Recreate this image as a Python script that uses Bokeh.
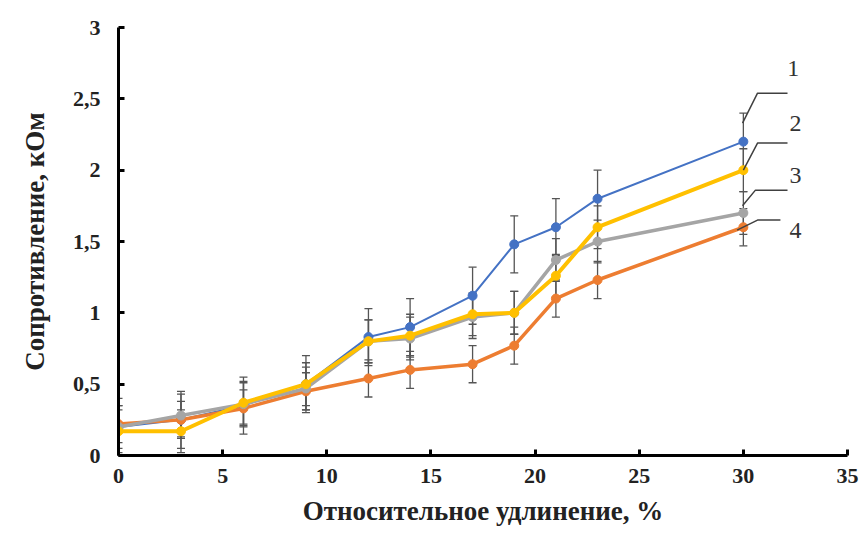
from bokeh.plotting import figure
from bokeh.models import FixedTicker, Whisker, TeeHead, ColumnDataSource, Label
from bokeh.embed import file_html
from bokeh.resources import INLINE

# ---- data ----
elongation = [0, 3, 6, 9, 12, 14, 17, 19, 21, 23, 30]
series_1 = [0.20, 0.25, 0.35, 0.50, 0.83, 0.90, 1.12, 1.48, 1.60, 1.80, 2.20]   # blue
series_2 = [0.17, 0.17, 0.37, 0.50, 0.80, 0.84, 0.99, 1.00, 1.26, 1.60, 2.00]   # yellow
series_3 = [0.20, 0.28, 0.36, 0.47, 0.80, 0.82, 0.97, 1.00, 1.37, 1.50, 1.70]   # gray
series_4 = [0.22, 0.25, 0.33, 0.45, 0.54, 0.60, 0.64, 0.77, 1.10, 1.23, 1.60]   # orange
err_1 = [0.20] * 11
err_2 = [0.15] * 11
err_3 = [0.15] * 11
err_4 = [0.13] * 11
series_names = ["1", "2", "3", "4"]
x_ticks = [0, 5, 10, 15, 20, 25, 30, 35]
y_ticks = [0, 0.5, 1, 1.5, 2, 2.5, 3]
y_tick_labels = ["0", "0,5", "1", "1,5", "2", "2,5", "3"]

FONT = "Liberation Serif"

p = figure(width=860, height=537, x_range=(0, 35), y_range=(0, 3),
           output_backend="svg", toolbar_location=None,
           min_border_left=118, min_border_right=13, min_border_top=27,
           min_border_bottom=82)
p.outline_line_color = None
p.xgrid.visible = False
p.ygrid.visible = False

for ax in (p.xaxis[0], p.yaxis[0]):
    ax.axis_line_width = 3
    ax.axis_line_color = "black"
    ax.major_tick_in = 6
    ax.major_tick_out = 0
    ax.major_tick_line_width = 3
    ax.minor_tick_line_color = None
    ax.major_label_text_font = FONT
    ax.major_label_text_font_style = "bold"
    ax.major_label_text_font_size = "22px"
    ax.major_label_text_color = "#222222"
    ax.axis_label_text_font = FONT
    ax.axis_label_text_font_style = "bold"
    ax.axis_label_text_font_size = "27px"
    ax.axis_label_text_color = "#222222"

p.xaxis.ticker = FixedTicker(ticks=x_ticks)
p.yaxis.ticker = FixedTicker(ticks=y_ticks)
p.yaxis.major_label_overrides = {t: l for t, l in zip(y_ticks, y_tick_labels)}
p.xaxis.axis_label = "Относительное удлинение, %"
p.yaxis.axis_label = "Сопротивление, кОм"
p.xaxis.major_label_standoff = 13
p.yaxis.major_label_standoff = 18
p.xaxis.axis_label_standoff = 10
p.yaxis.axis_label_standoff = 20

# Excel order: blue, orange, gray, yellow
order = [(series_1, err_1, "#4472C4", 2),
         (series_4, err_4, "#ED7D31", 3.5),
         (series_3, err_3, "#A5A5A5", 3.5),
         (series_2, err_2, "#FFC000", 4)]

for ys, es, col, lw in order:
    src = ColumnDataSource(dict(x=elongation, y=ys,
                                lo=[a - b for a, b in zip(ys, es)],
                                hi=[a + b for a, b in zip(ys, es)]))
    w = Whisker(base="x", lower="lo", upper="hi", source=src,
                line_color="#555555", line_width=1.3,
                upper_head=TeeHead(size=8, line_color="#555555", line_width=1.3),
                lower_head=TeeHead(size=8, line_color="#555555", line_width=1.3))
    p.add_layout(w)

for ys, es, col, lw in order:
    p.line(elongation, ys, line_color=col, line_width=lw)
    p.scatter(elongation, ys, size=9, fill_color=col, line_color=col)

# leader lines and series labels
leaders = [
    ([29.96, 30.68, 32.12], [2.33, 2.54, 2.54], (32.4, 2.71)),
    ([30.0, 30.68, 32.12], [2.00, 2.19, 2.19], (32.5, 2.33)),
    ([29.96, 30.58, 32.12], [1.75, 1.86, 1.86], (32.5, 1.96)),
    ([29.7, 30.68, 31.78], [1.58, 1.65, 1.65], (32.5, 1.58)),
]
for name, (lx, ly, (tx, ty)) in zip(series_names, leaders):
    p.line(lx, ly, line_color="#404040", line_width=1.5)
    p.add_layout(Label(x=tx, y=ty, text=name, text_font=FONT,
                       text_font_size="24px", text_color="#333333",
                       text_align="center", text_baseline="middle"))

open("out.html", "w").write(file_html(p, INLINE))
